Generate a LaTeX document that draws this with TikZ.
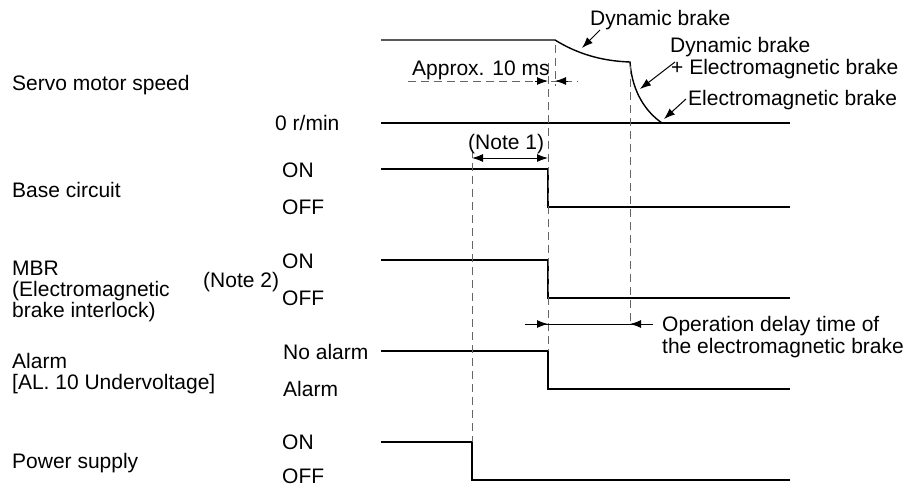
\documentclass[tikz,border=0pt]{standalone}
\usepackage{fontspec}
\setmainfont{Liberation Sans}
\usetikzlibrary{arrows.meta}
\begin{document}
\begin{tikzpicture}[x=1pt,y=-1pt,
  lbl/.style={font=\fontsize{21}{22}\selectfont, inner sep=0pt, anchor=base west},
  sig/.style={line width=1.4pt, black},
  guide/.style={line width=1pt, black!60, dash pattern=on 8pt off 5pt},
  thin/.style={line width=1pt, black},
  tip/.style={-{Latex[length=11pt,width=8pt]}},
  tips/.style={{Latex[length=11pt,width=8pt]}-{Latex[length=11pt,width=8pt]}}]
\useasboundingbox (0,0) rectangle (920,488);
% ---------- left labels ----------
\node[lbl] (speed) at (12,90.5) {Servo motor speed};
\node[lbl] (base) at (12,197.5) {Base circuit};
\node[lbl] (mbr1) at (12,275.5) {MBR};
\node[lbl] (mbr2) at (12,296.5) {(Electromagnetic};
\node[lbl] (mbr3) at (12,317.5) {brake interlock)};
\node[lbl] (alm1) at (12,368.5) {Alarm};
\node[lbl] (alm2) at (12,389.5) {[AL. 10 Undervoltage]};
\node[lbl] (pwr) at (12,468.5) {Power supply};
% ---------- level labels ----------
\node[lbl] (zero) at (275,130.5) {0 r/min};
\node[lbl] (bon) at (282,177.5) {ON};
\node[lbl] (boff) at (282,214.5) {OFF};
\node[lbl] (note2) at (203,287.5) {(Note 2)};
\node[lbl] (mon) at (282,268.5) {ON};
\node[lbl] (moff) at (282,305.5) {OFF};
\node[lbl] (noal) at (283,359.5) {No alarm};
\node[lbl] (al) at (283,396.5) {Alarm};
\node[lbl] (pon) at (282,449.5) {ON};
\node[lbl] (poff) at (282,483.5) {OFF};
% ---------- signals ----------
\draw[sig] (381,40) -- (555,40) .. controls (576,53) and (600,61) .. (630,62)
  coordinate (dbend) .. controls (632,92) and (646,112) .. (662,123) coordinate (emend);
\draw[sig] (381,123) -- (790,123);
\draw[sig] (381,169) -- (548,169) -- (548,207) -- (790,207);
\draw[sig] (381,260) -- (548,260) -- (548,298) -- (790,298);
\draw[sig] (381,351) -- (548,351) -- (548,389) -- (790,389);
\draw[sig] (381,442) -- (472,442) -- (472,480) -- (790,480);
% ---------- guide lines ----------
\draw[guide] (555,45) -- (555,86);
\draw[guide] (548,63) -- (548,351);
\draw[guide] (472,150) -- (472,442);
\draw[guide] (630,66) -- (630,324);
\draw[guide] (408,81) -- (578,81);
% ---------- approx 10 ms ----------
\node[lbl] (approx) at (412,75.5) {Approx. 10 ms};
\draw[thin,tip] (535,81) -- (548,81);
\draw[thin,tip] (568,81) -- (555,81);
% ---------- note 1 ----------
\node[lbl] (note1) at (468,149.5) {(Note 1)};
\draw[thin,tips] (472,158) -- (548,158);
% ---------- operation delay ----------
\draw[thin] (525,324) -- (653,324);
\draw[thin,tip] (530,324) -- (548,324);
\draw[thin,tip] (648,324) -- (630,324);
\node[lbl] (op1) at (662,331.5) {Operation delay time of};
\node[lbl] (op2) at (662,353.5) {the electromagnetic brake};
% ---------- brake annotations ----------
\node[lbl] (db) at (590,25.5) {Dynamic brake};
\node[lbl] (dbem1) at (670,52.5) {Dynamic brake};
\node[lbl] (dbem2) at (671,74.5) {+ Electromagnetic brake};
\node[lbl] (em) at (688,105.5) {Electromagnetic brake};
\draw[thin,tip] (600,30) -- (582,48);
\draw[thin,tip] (675,62) -- (640,89);
\draw[thin,tip] (686,99) -- (664,119);
\end{tikzpicture}
\end{document}
